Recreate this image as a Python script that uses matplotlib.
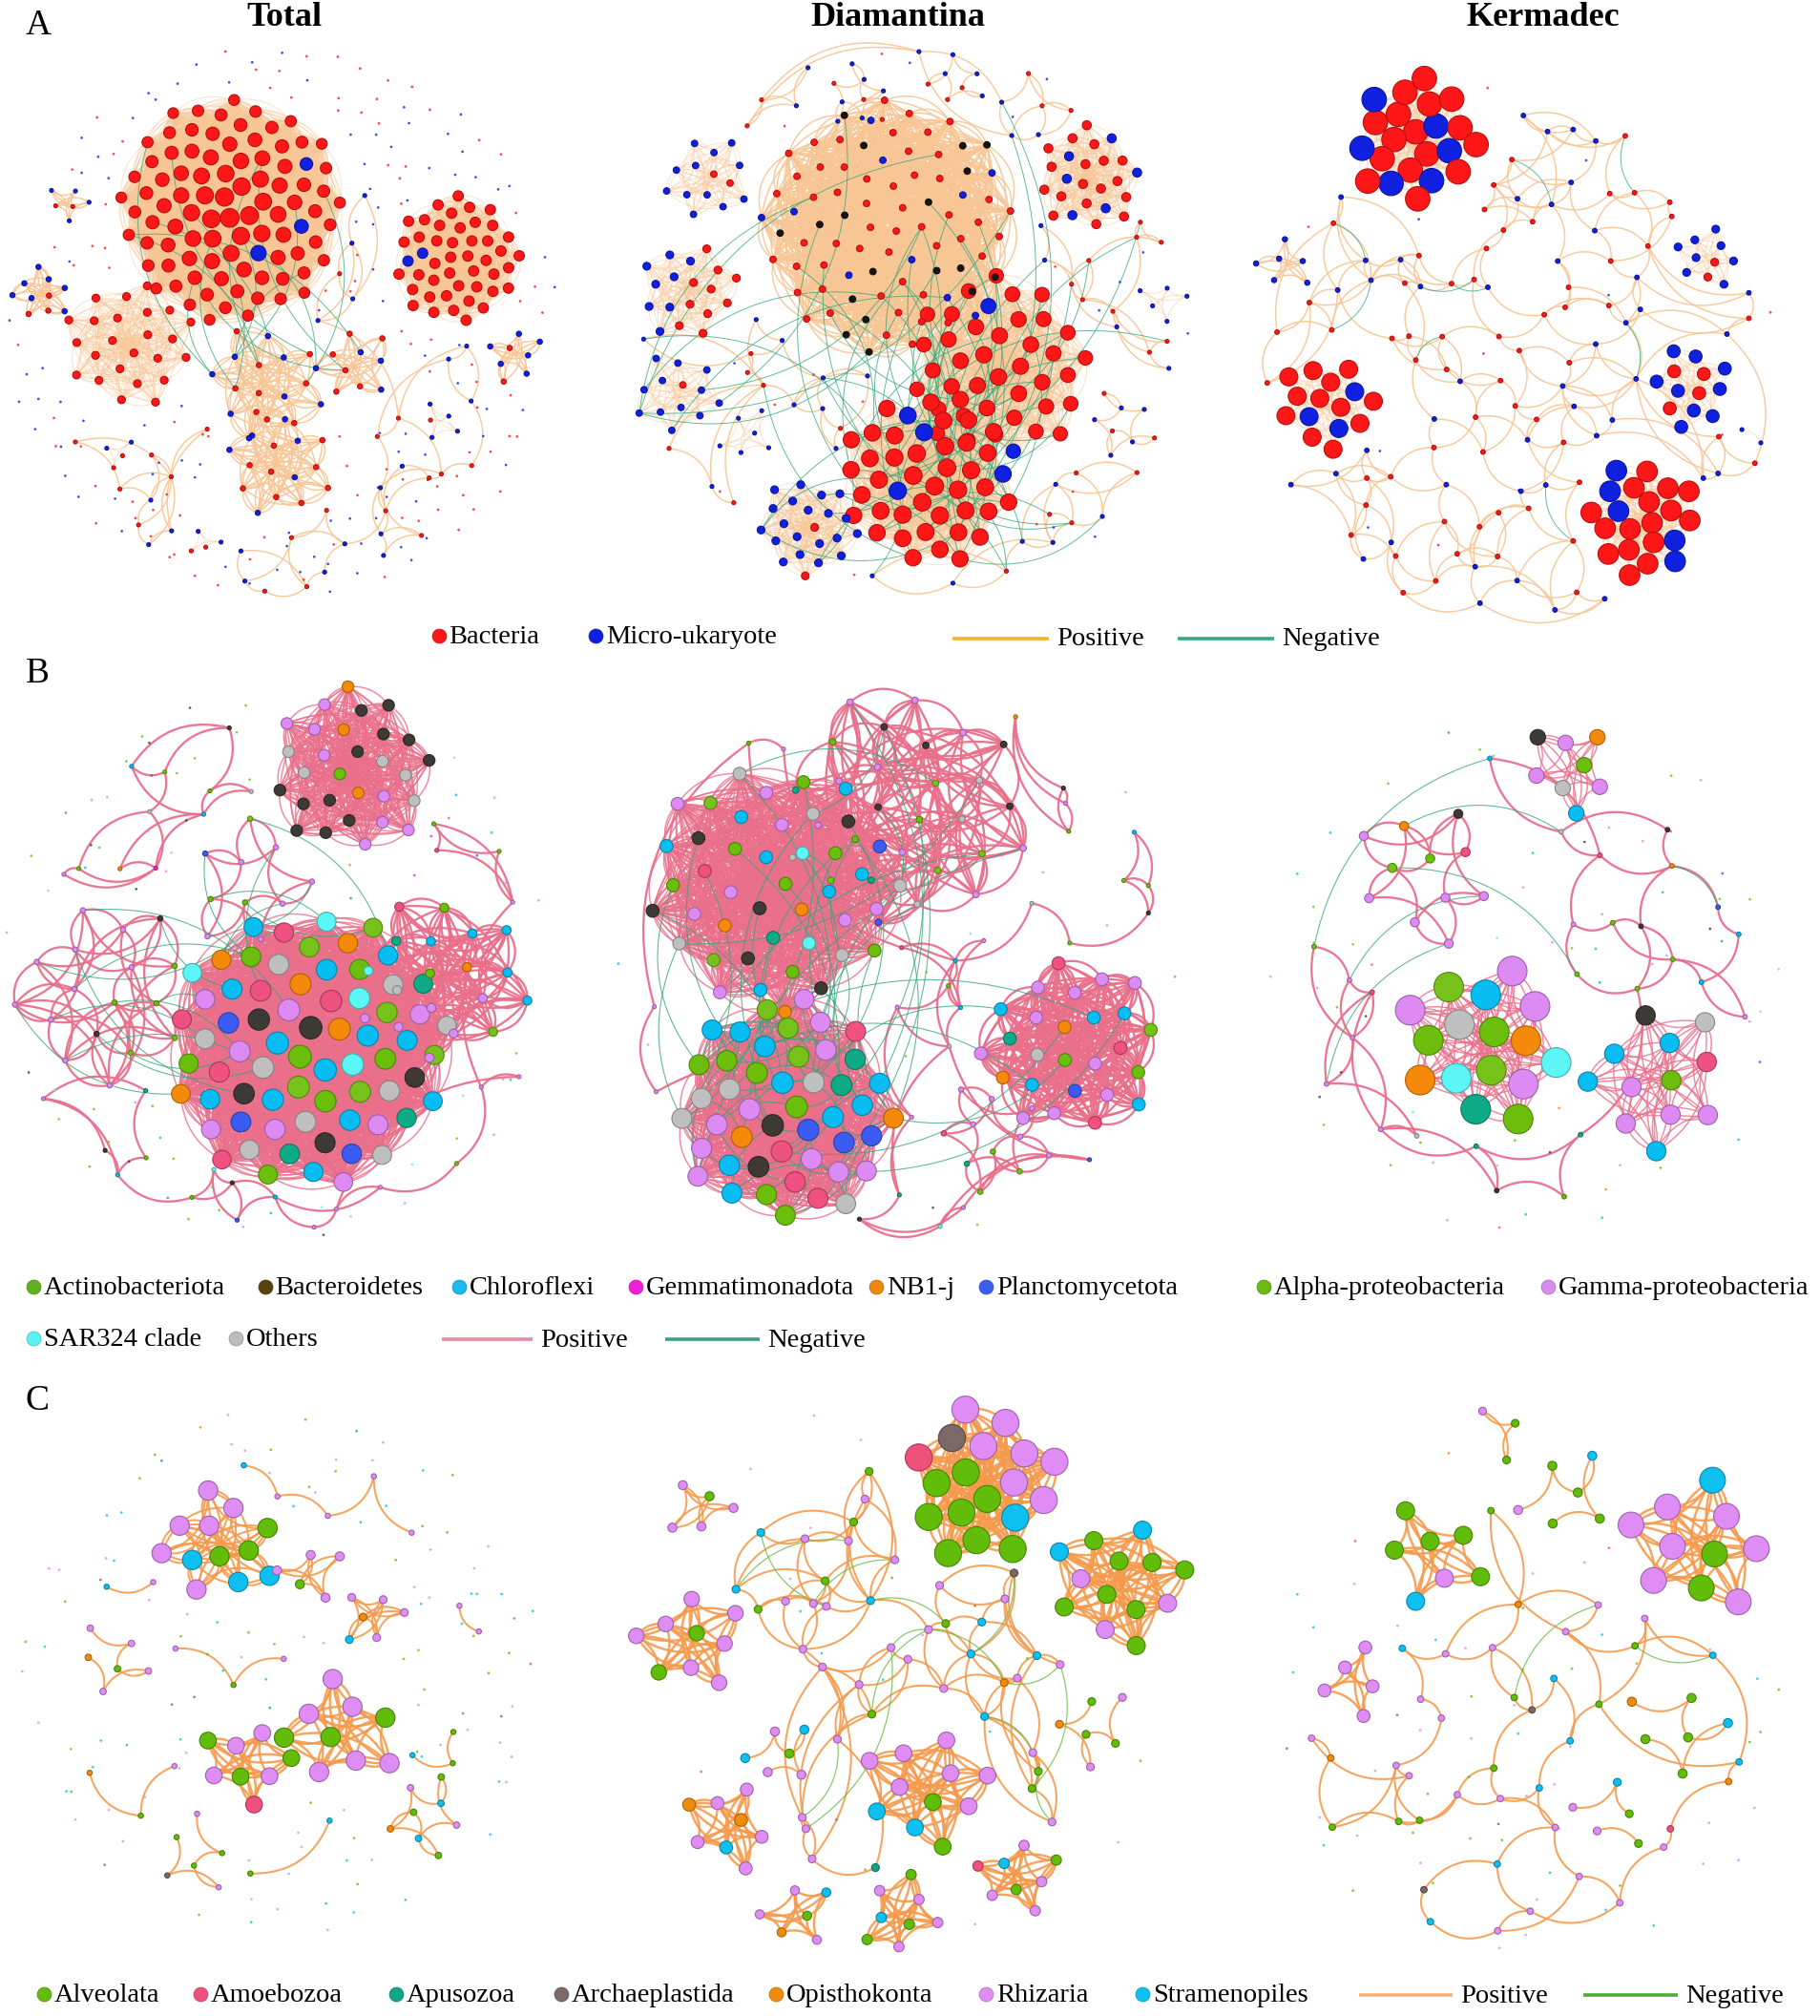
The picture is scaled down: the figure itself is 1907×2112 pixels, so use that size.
import numpy as np
import matplotlib
matplotlib.use("Agg")
import matplotlib.pyplot as plt
from matplotlib.collections import LineCollection
from matplotlib.colors import to_rgb

plt.rcParams['font.family'] = ['Liberation Serif', 'DejaVu Serif']

W, H = 1415.0, 1567.0      # drawing units (1 unit ~ 1.35 px)
PT = 0.97                  # points per drawing unit
GOLD = np.pi * (3 - np.sqrt(5))

# ---------------------------------------------------------------- titles
COL_TITLES = ["Total", "Diamantina", "Kermadec"]
ROW_LABELS = ["A", "B", "C"]

# ---------------------------------------------------------------- row A
A_LABELS = ["Bacteria", "Micro-ukaryote"]
A_NODE = ["#ff1717", "#1020e0", "#151515"]      # 3rd = unlabelled black nodes
# node counts per module: [bacteria, micro-eukaryote, black]
A_TOT_MOD = [[88, 3, 0], [24, 0, 0], [44, 2, 0], [3, 7, 0], [2, 4, 0], [2, 6, 0],
             [10, 6, 0], [8, 8, 0], [6, 4, 0], [2, 2, 0], [2, 2, 0], [1, 4, 0]]
A_TOT_LOOSE = [18, 18, 0]
A_TOT_DOTS = [90, 90, 0]
A_TOT_NEG = [(0, 7, 12), (0, 8, 4)]

A_DIA_MOD = [[38, 2, 0], [40, 4, 0], [52, 10, 18], [2, 12, 0], [10, 8, 0], [1, 12, 0],
             [0, 6, 0], [2, 20, 0], [18, 6, 0], [0, 5, 0], [3, 6, 0], [3, 4, 0], [3, 5, 0]]
A_DIA_LOOSE = [25, 25, 0]
A_DIA_DOTS = [10, 10, 0]
A_DIA_NEG = [(0, 1, 30), (1, 2, 25), (1, -1, 20), (2, 5, 8), (1, 7, 8)]

A_KER_MOD = [[16, 6, 0], [12, 3, 0], [16, 5, 0], [4, 9, 0], [2, 8, 0], [0, 6, 0], [0, 2, 0]]
A_KER_LOOSE = [60, 45, 0]
A_KER_DOTS = [6, 6, 0]
A_KER_NEG = [(-1, -1, 9)]

# ---------------------------------------------------------------- row B
B_LABELS = ["Actinobacteriota", "Bacteroidetes", "Chloroflexi", "Gemmatimonadota", "NB1-j",
            "Planctomycetota", "Alpha-proteobacteria", "Gamma-proteobacteria", "SAR324 clade", "Others"]
B_LEG = ["#5fb01f", "#5a4210", "#1cb8f0", "#f01ed8", "#f0870f", "#3d5cf0",
         "#6cb814", "#d88eee", "#5af2f2", "#bdbdbd"]
B_NODE = ["#6bbf0c", "#3d3934", "#08bdf2", "#ee2ad6", "#f58a0a", "#3b5bf2",
          "#76c21a", "#dd8af2", "#5cf6f6", "#bfbfbf", "#ef5280", "#0fab86"]
# counts: act, bac, chl, gem, nb1, pla, alp, gam, sar, oth, pink, teal
B_TOT_MOD = [[1, 12, 0, 0, 3, 0, 0, 8, 0, 5, 0, 0],
             [7, 5, 13, 0, 5, 3, 6, 8, 4, 9, 6, 3],
             [2, 0, 5, 0, 1, 0, 1, 6, 1, 1, 1, 1],
             [3, 2, 0, 0, 0, 0, 2, 10, 0, 0, 0, 0],
             [2, 0, 0, 0, 0, 1, 1, 6, 0, 0, 0, 0]]
B_TOT_LOOSE = [4, 3, 4, 1, 1, 1, 4, 8, 1, 2, 1, 1]
B_TOT_DOTS = [10, 8, 6, 2, 2, 2, 10, 14, 3, 5, 2, 2]
B_TOT_NEG = [(3, 1, 12), (4, 1, 8)]

B_DIA_MOD = [[7, 6, 7, 0, 3, 1, 2, 8, 2, 5, 1, 1],
             [6, 2, 9, 0, 2, 3, 3, 10, 0, 5, 4, 2],
             [3, 5, 0, 0, 0, 1, 4, 9, 0, 4, 0, 2],
             [2, 0, 5, 0, 2, 1, 1, 10, 0, 1, 3, 1],
             [1, 0, 0, 0, 0, 0, 2, 6, 0, 0, 1, 1]]
B_DIA_LOOSE = [3, 3, 3, 0, 1, 1, 3, 8, 1, 2, 1, 1]
B_DIA_DOTS = [2, 1, 1, 0, 0, 0, 2, 5, 0, 1, 0, 0]
B_DIA_NEG = [(1, 1, 45), (0, 1, 20), (1, 2, 8), (1, 3, 6), (0, 2, 6)]

B_KER_MOD = [[3, 0, 1, 0, 2, 0, 2, 4, 2, 1, 0, 1],
             [1, 1, 4, 0, 0, 0, 0, 4, 0, 1, 1, 0],
             [1, 1, 1, 0, 1, 0, 0, 3, 0, 1, 0, 0],
             [1, 1, 0, 0, 1, 0, 1, 6, 0, 0, 1, 0]]
B_KER_LOOSE = [3, 3, 3, 0, 1, 1, 3, 6, 0, 2, 2, 2]
B_KER_DOTS = [8, 6, 8, 1, 2, 2, 8, 14, 2, 3, 2, 3]
B_KER_NEG = [(3, -1, 4), (-1, -1, 2)]

# ---------------------------------------------------------------- row C
C_LABELS = ["Alveolata", "Amoebozoa", "Apusozoa", "Archaeplastida", "Opisthokonta",
            "Rhizaria", "Stramenopiles"]
C_NODE = ["#62bd0a", "#f0507c", "#10a585", "#7a6966", "#f08c0c", "#df8cf4", "#0ec0f2"]
# counts: alv, amo, apu, arc, opi, rhi, str
C_TOT_MOD = [[3, 0, 0, 0, 0, 6, 3], [3, 1, 0, 0, 0, 4, 0], [3, 0, 0, 0, 0, 6, 0],
             [1, 0, 0, 0, 1, 4, 0], [1, 0, 0, 0, 0, 4, 0], [0, 0, 0, 0, 1, 4, 1],
             [3, 0, 0, 0, 1, 2, 2], [3, 0, 0, 1, 0, 2, 0]]
C_TOT_LOOSE = [5, 0, 0, 0, 1, 10, 4]
C_TOT_DOTS = [25, 3, 3, 5, 5, 45, 30]
C_TOT_NEG = []

C_DIA_MOD = [[8, 1, 0, 1, 0, 7, 1], [8, 0, 0, 0, 0, 3, 2], [2, 0, 0, 0, 0, 7, 0],
             [2, 0, 0, 0, 0, 7, 2], [0, 0, 0, 0, 2, 5, 1], [1, 0, 0, 0, 0, 4, 0],
             [1, 0, 0, 0, 1, 3, 1], [3, 0, 0, 0, 0, 4, 1], [2, 1, 0, 0, 0, 4, 1],
             [3, 0, 0, 0, 1, 2, 0], [1, 0, 0, 0, 0, 3, 2]]
C_DIA_LOOSE = [8, 0, 1, 1, 1, 24, 7]
C_DIA_DOTS = [4, 1, 0, 2, 0, 8, 4]
C_DIA_NEG = [(-1, -1, 14)]

C_KER_MOD = [[2, 0, 0, 0, 0, 7, 1], [5, 0, 0, 0, 0, 1, 1], [4, 0, 0, 0, 0, 1, 1],
             [2, 0, 0, 0, 0, 1, 0], [0, 0, 0, 0, 0, 5, 0], [4, 0, 0, 0, 1, 0, 1],
             [2, 0, 0, 0, 0, 2, 1]]
C_KER_LOOSE = [8, 1, 0, 2, 3, 18, 8]
C_KER_DOTS = [15, 2, 0, 3, 3, 25, 12]
C_KER_NEG = [(-1, -1, 2)]

# ---------------------------------------------------------------- layout
# modules: cx, cy, radius, node size, edge density, size fall-off to rim
LAY = {
    "A_TOT": [(180, 163, 88, 15, 1.0, 0.45), (100, 268, 52, 6, 1.0, 0), (355, 202, 50, 8, 1.0, 0),
              (33, 228, 24, 4, 0.8, 0), (52, 158, 18, 3, 0.8, 0), (400, 275, 24, 4, 0.8, 0),
              (215, 360, 45, 4, 0.75, 0), (205, 298, 48, 4, 0.75, 0), (275, 285, 32, 4, 0.8, 0),
              (160, 420, 15, 3, 1.0, 0), (92, 350, 15, 3, 1.0, 0), (340, 328, 18, 3, 1.0, 0)],
    "A_DIA": [(775, 285, 72, 13, 1.0, 0.15), (722, 372, 68, 14, 1.0, 0.1), (690, 175, 100, 5, 0.35, 0),
              (550, 140, 35, 5, 1.0, 0), (535, 225, 40, 6, 1.0, 0), (527, 305, 35, 5, 1.0, 0),
              (580, 340, 25, 3, 1.0, 0), (627, 410, 40, 6, 1.0, 0), (845, 138, 42, 7, 1.0, 0),
              (902, 235, 22, 3, 1.0, 0), (665, 75, 28, 3, 0.5, 0), (745, 62, 25, 3, 0.5, 0),
              (870, 330, 30, 3, 0.5, 0)],
    "A_KER": [(1100, 110, 50, 19, 1.0, 0), (1030, 315, 38, 14, 1.0, 0), (1277, 405, 45, 16, 1.0, 0),
              (1315, 302, 33, 10, 1.0, 0), (1328, 200, 26, 6, 1.0, 0), (1000, 205, 25, 4, 0.7, 0),
              (1365, 338, 14, 3, 1.0, 0)],
    "B_TOT": [(272, 598, 66, 9, 1.0, 0), (240, 815, 110, 18, 1.0, 0.2), (345, 760, 70, 7, 0.7, 0),
              (80, 770, 75, 4, 0.5, 0), (195, 690, 55, 4, 0.5, 0)],
    "B_DIA": [(600, 690, 100, 10, 1.0, 0), (610, 862, 88, 17, 1.0, 0.1), (705, 628, 98, 5, 0.45, 0),
              (832, 815, 72, 10, 0.8, 0), (770, 885, 48, 4, 0.5, 0)],
    "B_KER": [(1155, 812, 66, 23, 1.0, 0), (1287, 836, 60, 15, 1.0, 0), (1222, 598, 38, 12, 1.0, 0),
              (1110, 680, 60, 7, 0.45, 0)],
    "C_TOT": [(172, 1200, 48, 15, 0.8, 0), (190, 1372, 38, 13, 1.0, 0), (267, 1345, 48, 15, 1.0, 0),
              (85, 1290, 33, 5, 0.6, 0), (240, 1225, 30, 7, 0.7, 0), (290, 1255, 28, 6, 0.7, 0),
              (330, 1410, 35, 5, 0.5, 0), (150, 1440, 35, 4, 0.4, 0)],
    "C_DIA": [(765, 1155, 62, 21, 1.0, 0), (868, 1232, 55, 14, 1.0, 0), (535, 1278, 45, 12, 1.0, 0),
              (718, 1392, 52, 13, 1.0, 0), (568, 1420, 38, 10, 1.0, 0), (545, 1170, 30, 7, 0.8, 0),
              (618, 1490, 32, 7, 1.0, 0), (700, 1490, 35, 8, 1.0, 0), (790, 1460, 35, 8, 1.0, 0),
              (850, 1340, 35, 6, 0.5, 0), (605, 1365, 30, 7, 0.6, 0)],
    "C_KER": [(1322, 1200, 58, 20, 1.0, 0), (1110, 1210, 45, 14, 1.0, 0), (1215, 1165, 42, 7, 0.5, 0),
              (1170, 1115, 28, 6, 0.8, 0), (1050, 1305, 32, 10, 1.0, 0), (1300, 1345, 45, 7, 0.4, 0),
              (1255, 1410, 35, 6, 0.4, 0)],
}
# loose-node area, isolated-dot area (cx, cy, r), loose node size, halton offset, links per node, neg reach
AREA = {
    "A_TOT": ((215, 300, 165), (220, 250, 215), 3, 11, 2, 6),
    "A_DIA": ((710, 250, 215), (710, 250, 222), 3, 23, 2, 40),
    "A_KER": ((1180, 285, 200), (1180, 270, 215), 3.5, 37, 3, 6),
    "B_TOT": ((215, 760, 205), (215, 750, 215), 3, 51, 2, 20),
    "B_DIA": ((700, 750, 215), (700, 750, 222), 3, 67, 2, 25),
    "B_KER": ((1190, 760, 180), (1190, 760, 205), 3.5, 79, 2, 8),
    "C_TOT": ((220, 1300, 170), (220, 1300, 205), 4, 91, 1, 8),
    "C_DIA": ((705, 1300, 165), (700, 1300, 215), 6, 103, 3, 12),
    "C_KER": ((1190, 1340, 175), (1190, 1320, 205), 5, 117, 2, 8),
}

STYLE = {
    "A": dict(nodes=A_NODE, pos="#f8c594", neg="#38a97c", lw_mod=0.7, a_mod=0.5, lw_loose=1.1,
              a_loose=0.9, lw_neg=0.7),
    "B": dict(nodes=B_NODE, pos="#e96f8b", neg="#3aa57c", lw_mod=1.1, a_mod=0.8, lw_loose=1.7,
              a_loose=0.95, lw_neg=0.8),
    "C": dict(nodes=C_NODE, pos="#f59a4c", neg="#66bb44", lw_mod=1.8, a_mod=0.9, lw_loose=1.5,
              a_loose=0.9, lw_neg=0.9),
}

PANELS = [
    ("A", "A_TOT", A_TOT_MOD, A_TOT_LOOSE, A_TOT_DOTS, A_TOT_NEG),
    ("A", "A_DIA", A_DIA_MOD, A_DIA_LOOSE, A_DIA_DOTS, A_DIA_NEG),
    ("A", "A_KER", A_KER_MOD, A_KER_LOOSE, A_KER_DOTS, A_KER_NEG),
    ("B", "B_TOT", B_TOT_MOD, B_TOT_LOOSE, B_TOT_DOTS, B_TOT_NEG),
    ("B", "B_DIA", B_DIA_MOD, B_DIA_LOOSE, B_DIA_DOTS, B_DIA_NEG),
    ("B", "B_KER", B_KER_MOD, B_KER_LOOSE, B_KER_DOTS, B_KER_NEG),
    ("C", "C_TOT", C_TOT_MOD, C_TOT_LOOSE, C_TOT_DOTS, C_TOT_NEG),
    ("C", "C_DIA", C_DIA_MOD, C_DIA_LOOSE, C_DIA_DOTS, C_DIA_NEG),
    ("C", "C_KER", C_KER_MOD, C_KER_LOOSE, C_KER_DOTS, C_KER_NEG),
]


def darker(c, f=0.7):
    return tuple(np.array(to_rgb(c)) * f)


def halton(n, base, skip):
    out = np.zeros(n)
    for i in range(n):
        f, r, k = 1.0, 0.0, i + skip
        while k > 0:
            f /= base
            r += f * (k % base)
            k //= base
        out[i] = r
    return out


def mix_labels(comp):
    labels = np.repeat(np.arange(len(comp)), comp)
    n = len(labels)
    if n == 0:
        return labels
    step = next(s for s in (7, 5, 11, 13, 3, 1) if np.gcd(s, n) == 1)
    return labels[(np.arange(n) * step) % n]


def sunflower(n, cx, cy, r):
    k = np.arange(n)
    rn = np.sqrt((k + 0.5) / n)
    th = k * GOLD + cx * 0.01
    return np.column_stack([cx + r * rn * np.cos(th), cy + r * rn * np.sin(th)]), rn


def scatter_points(n, area, avoid, skip):
    cx, cy, r = area
    m = 8 * n + 20
    u, v = halton(m, 2, skip), halton(m, 3, skip)
    x = cx + r * np.sqrt(u) * np.cos(2 * np.pi * v)
    y = cy + r * np.sqrt(u) * np.sin(2 * np.pi * v)
    keep = np.ones(m, bool)
    for (ax_, ay_, ar) in avoid:
        keep &= (x - ax_) ** 2 + (y - ay_) ** 2 > (ar + 8) ** 2
    idx = np.flatnonzero(keep)[:n]
    return np.column_stack([x[idx], y[idx]])


def arc(p, q, c, m=14):
    t = np.linspace(0, 1, m)[:, None]
    d = q - p
    ctrl = (p + q) / 2 + c * np.array([-d[1], d[0]])
    return (1 - t) ** 2 * p + 2 * (1 - t) * t * ctrl + t ** 2 * q


def draw_panel(ax, row, key, mods, loose, dots, negs):
    st = STYLE[row]
    lays = LAY[key]
    loose_area, dot_area, loose_size, skip, links, reach = AREA[key]
    pal = st["nodes"]
    nx, ns, nc = [], [], []
    mod_segs, loose_segs, neg_segs = [], [], []
    groups = []
    for comp, (cx, cy, r, size, dens, fall) in zip(mods, lays):
        lab = mix_labels(comp)
        pts, rn = sunflower(len(lab), cx, cy, r)
        n = len(lab)
        web = dens < 0.85
        for i in range(n):
            for j in range(i + 1, n):
                if (i * 7 + j * 13) % 20 < dens * 20:
                    if web:
                        c = 0.38 if (i + j) % 2 else -0.38
                        loose_segs.append(arc(pts[i], pts[j], c, 18))
                    else:
                        c = 0.28 if (i + j) % 2 else -0.28
                        mod_segs.append(arc(pts[i], pts[j], c))
        groups.append(pts)
        nx.append(pts)
        ns.append(size * (1 - fall * rn))
        nc += [pal[k] for k in lab]

    avoid = [(l[0], l[1], l[2]) for l in lays]
    lab = mix_labels(loose)
    lpts = scatter_points(len(lab), loose_area, avoid, skip)
    lab = lab[:len(lpts)]
    n = len(lpts)
    done = set()
    if n > 2:
        dist = np.hypot(lpts[:, None, 0] - lpts[None, :, 0], lpts[:, None, 1] - lpts[None, :, 1])
        for i in range(n):
            order = np.argsort(dist[i])
            ranks = [1, 2 + i % 4, 4 + i % 5][:links]
            for rank in ranks:
                j = int(order[min(rank, n - 1)])
                e = (min(i, j), max(i, j))
                if i == j or e in done:
                    continue
                done.add(e)
                c = 0.35 if (i + j) % 2 else -0.35
                loose_segs.append(arc(lpts[i], lpts[j], c, 20))
    groups.append(lpts)
    nx.append(lpts)
    ns.append(np.full(n, loose_size))
    nc += [pal[k] for k in lab]

    for (a, b, cnt) in negs:
        A, B = groups[a], groups[b]
        if len(A) == 0 or len(B) == 0:
            continue
        for k in range(cnt):
            p = A[(k * 37 + 5) % len(A)]
            d = np.hypot(B[:, 0] - p[0], B[:, 1] - p[1])
            order = np.argsort(d)
            q = B[order[min(2 + (k * 7) % reach, len(B) - 1)]]
            if np.hypot(*(p - q)) < 6:
                continue
            neg_segs.append(arc(p, q, 0.3 if k % 2 else -0.3, 24))

    ax.add_collection(LineCollection(mod_segs, colors=st["pos"], linewidths=st["lw_mod"] * PT,
                                     alpha=st["a_mod"], zorder=1, capstyle="round"))
    ax.add_collection(LineCollection(loose_segs, colors=st["pos"], linewidths=st["lw_loose"] * PT,
                                     alpha=st["a_loose"], zorder=1, capstyle="round"))
    if neg_segs:
        ax.add_collection(LineCollection(neg_segs, colors=st["neg"], linewidths=st["lw_neg"] * PT,
                                         alpha=0.8, zorder=2))

    dlab = mix_labels(dots)
    dpts = scatter_points(len(dlab), dot_area, avoid, skip + 500)
    dlab = dlab[:len(dpts)]
    if len(dpts):
        ax.scatter(dpts[:, 0], dpts[:, 1], s=(2.0 * PT) ** 2, c=[pal[k] for k in dlab],
                   linewidths=0, alpha=0.8, zorder=3)

    pts = np.vstack(nx)
    sz = np.concatenate(ns)
    ax.scatter(pts[:, 0], pts[:, 1], s=(sz * PT) ** 2, c=nc,
               edgecolors=[darker(c) for c in nc], linewidths=0.8, zorder=4)


fig = plt.figure(figsize=(19.08, 21.12), dpi=100)
ax = fig.add_axes([0, 0, 1, 1])
ax.set_xlim(0, W)
ax.set_ylim(H, 0)
ax.axis("off")

for row, key, mods, loose, dots, negs in PANELS:
    draw_panel(ax, row, key, mods, loose, dots, negs)

# titles and panel letters
for x, t in zip([221, 698, 1199], COL_TITLES):
    ax.text(x, 14, t, fontsize=26, fontweight="bold", ha="center", va="center")
for y, t in zip([20, 524, 1089], ROW_LABELS):
    ax.text(20, y, t, fontsize=27, ha="left", va="center")

LEG_FS = 20.5


def leg_dot(x, y, color, label):
    ax.scatter([x], [y], s=(11 * PT) ** 2, c=[color], edgecolors=[darker(color, 0.8)],
               linewidths=0.6, zorder=6)
    ax.text(x + 8, y + 1, label, fontsize=LEG_FS, ha="left", va="center")


def leg_line(x0, x1, y, color, label):
    ax.plot([x0, x1], [y, y], color=color, lw=2.6, solid_capstyle="butt", zorder=6)
    ax.text(x1 + 6, y + 1, label, fontsize=LEG_FS, ha="left", va="center")


# legend A
for x, c, t in zip([341, 463], A_NODE[:2], A_LABELS):
    leg_dot(x, 494, c, t)
leg_line(740, 815, 496, "#f5b32a", "Positive")
leg_line(915, 990, 496, "#3aaa7e", "Negative")

# legend B
for x, c, t in zip([26, 206, 357, 494, 681, 766, 982, 1203], B_LEG[:8], B_LABELS[:8]):
    leg_dot(x, 1000, c, t)
for x, c, t in zip([26, 183], B_LEG[8:], B_LABELS[8:]):
    leg_dot(x, 1040, c, t)
leg_line(343, 414, 1041, "#e98aa0", "Positive")
leg_line(517, 590, 1041, "#3aa37a", "Negative")

# legend C
for x, c, t in zip([34, 156, 308, 436, 603, 766, 888], C_NODE, C_LABELS):
    leg_dot(x, 1550, c, t)
leg_line(1056, 1129, 1551, "#f7b07a", "Positive")
leg_line(1230, 1304, 1551, "#4caf32", "Negative")

fig.savefig("out.png", dpi=100, facecolor="white")
